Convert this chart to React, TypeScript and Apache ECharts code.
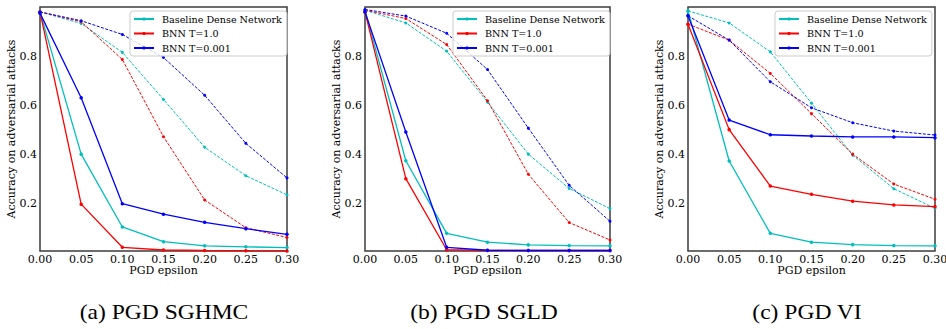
import { useEffect, useRef } from "react";
import * as echarts from "echarts";

const epsilons = [0, 0.05, 0.1, 0.15, 0.2, 0.25, 0.3];
const yTicks = [0.2, 0.4, 0.6, 0.8];
const seriesNames = ["Baseline Dense Network", "BNN T=1.0", "BNN T=0.001"];
const captions = ["(a) PGD SGHMC", "(b) PGD SGLD", "(c) PGD VI"];
const xLabel = "PGD epsilon";
const yLabel = "Accuracy on adversarial attacks";

// (a) PGD SGHMC
const sghmcBaselineSolid = [0.98, 0.4, 0.103, 0.043, 0.026, 0.022, 0.019];
const sghmcBaselineDashed = [0.98, 0.933, 0.815, 0.623, 0.428, 0.312, 0.234];
const sghmcT1Solid = [0.98, 0.196, 0.02, 0.009, 0.007, 0.006, 0.005];
const sghmcT1Dashed = [0.98, 0.94, 0.786, 0.471, 0.213, 0.1, 0.06];
const sghmcT001Solid = [0.975, 0.63, 0.198, 0.155, 0.122, 0.096, 0.073];
const sghmcT001Dashed = [0.98, 0.944, 0.888, 0.794, 0.64, 0.444, 0.303];

// (b) PGD SGLD
const sgldBaselineSolid = [0.987, 0.373, 0.077, 0.041, 0.03, 0.027, 0.026];
const sgldBaselineDashed = [0.987, 0.935, 0.82, 0.612, 0.4, 0.26, 0.178];
const sgldT1Solid = [0.98, 0.3, 0.01, 0.007, 0.007, 0.007, 0.007];
const sgldT1Dashed = [0.987, 0.953, 0.847, 0.618, 0.318, 0.121, 0.05];
const sgldT001Solid = [0.98, 0.49, 0.02, 0.008, 0.007, 0.007, 0.007];
const sgldT001Dashed = [0.99, 0.963, 0.893, 0.745, 0.506, 0.273, 0.126];

// (c) PGD VI
const viBaselineSolid = [0.984, 0.372, 0.077, 0.041, 0.031, 0.027, 0.026];
const viBaselineDashed = [0.984, 0.935, 0.817, 0.608, 0.396, 0.259, 0.179];
const viT1Solid = [0.93, 0.5, 0.27, 0.236, 0.208, 0.193, 0.186];
const viT1Dashed = [0.93, 0.865, 0.729, 0.565, 0.4, 0.278, 0.216];
const viT001Solid = [0.964, 0.539, 0.479, 0.474, 0.47, 0.47, 0.467];
const viT001Dashed = [0.964, 0.865, 0.695, 0.589, 0.528, 0.494, 0.478];

const panels = [
  [
    [sghmcBaselineSolid, sghmcBaselineDashed],
    [sghmcT1Solid, sghmcT1Dashed],
    [sghmcT001Solid, sghmcT001Dashed],
  ],
  [
    [sgldBaselineSolid, sgldBaselineDashed],
    [sgldT1Solid, sgldT1Dashed],
    [sgldT001Solid, sgldT001Dashed],
  ],
  [
    [viBaselineSolid, viBaselineDashed],
    [viT1Solid, viT1Dashed],
    [viT001Solid, viT001Dashed],
  ],
];

const colors = ["#00bfbf", "#ff0000", "#0000ff"];

const gridBoxes = [
  { left: 40, top: 7, width: 247, height: 244 },
  { left: 365, top: 7, width: 245, height: 244 },
  { left: 688, top: 7, width: 247, height: 244 },
];
const legendLefts = [130, 453, 775];
const captionCenters = [164, 484, 807];

const SERIF = "DejaVu Serif";
const TIMES = "Liberation Serif";

export default function App() {
  const ref = useRef<HTMLDivElement>(null);
  useEffect(() => {
    if (!ref.current) return;
    const chart = echarts.init(ref.current, null, { renderer: "svg" });

    const grid = gridBoxes.map((g) => ({
      ...g,
      show: true,
      borderColor: "#3c3c3c",
      borderWidth: 1.5,
      backgroundColor: "transparent",
      outerBoundsMode: "none",
    }));

    const xAxis = gridBoxes.map((_, i) => ({
      gridIndex: i,
      type: "value",
      min: 0,
      max: 0.3,
      interval: 0.05,
      axisLine: { show: false },
      axisTick: { show: false },
      splitLine: { show: false },
      axisLabel: {
        fontFamily: SERIF,
        fontSize: 11,
        color: "#000",
        margin: 3,
        formatter: (v: number) => v.toFixed(2),
      },
      name: xLabel,
      nameLocation: "middle",
      nameGap: 14,
      nameMoveOverlap: false,
      nameTextStyle: { fontFamily: SERIF, fontSize: 11, color: "#000" },
    }));

    const yAxis = gridBoxes.map((_, i) => ({
      gridIndex: i,
      type: "value",
      min: 0.005,
      max: 1.0,
      axisLine: { show: false },
      axisTick: { show: false },
      splitLine: { show: false },
      axisLabel: {
        customValues: yTicks,
        fontFamily: SERIF,
        fontSize: 11,
        color: "#000",
        margin: 3,
        formatter: (v: number) => v.toFixed(1),
      },
      name: yLabel,
      nameLocation: "middle",
      nameGap: 23,
      nameMoveOverlap: false,
      nameTextStyle: { fontFamily: SERIF, fontSize: 11, color: "#000" },
    }));

    const series: any[] = [];
    panels.forEach((panel, pi) => {
      panel.forEach((pair, si) => {
        pair.forEach((vals, di) => {
          series.push({
            type: "line",
            name: seriesNames[si],
            xAxisIndex: pi,
            yAxisIndex: pi,
            data: epsilons.map((e, k) => [e, vals[k]]),
            symbol: "circle",
            symbolSize: di === 0 ? 3.5 : 3,
            itemStyle: { color: colors[si] },
            lineStyle: {
              color: colors[si],
              width: di === 0 ? 1.3 : 1,
              type: di === 0 ? "solid" : [3, 1.5],
            },
            emphasis: { disabled: true },
          });
        });
      });
    });

    const legend = legendLefts.map((left) => ({
      left,
      top: 11,
      orient: "vertical",
      data: seriesNames,
      itemWidth: 20,
      itemHeight: 4,
      itemGap: 2.5,
      padding: [2, 5, 2, 3],
      borderColor: "#cccccc",
      borderWidth: 1,
      borderRadius: 3,
      backgroundColor: "rgba(255,255,255,0.8)",
      textStyle: {
        fontFamily: SERIF,
        fontSize: 9.6,
        lineHeight: 12,
        color: "#000",
        padding: [0, 0, 0, 3],
      },
      selectedMode: false,
    }));

    const graphic = captions.map((text, i) => ({
      type: "text",
      x: captionCenters[i],
      y: 312,
      scaleX: 1.07,
      style: {
        text,
        fontFamily: TIMES,
        fontSize: 22,
        fill: "#000",
        align: "center",
        verticalAlign: "middle",
      },
    }));

    chart.setOption({
      animation: false,
      backgroundColor: "#fff",
      textStyle: { fontFamily: SERIF },
      grid,
      xAxis,
      yAxis,
      legend,
      series,
      graphic,
    } as any);

    return () => chart.dispose();
  }, []);

  return (
    <div
      ref={ref}
      style={{ position: "fixed", left: 0, top: 0, width: 946, height: 329 }}
    />
  );
}
